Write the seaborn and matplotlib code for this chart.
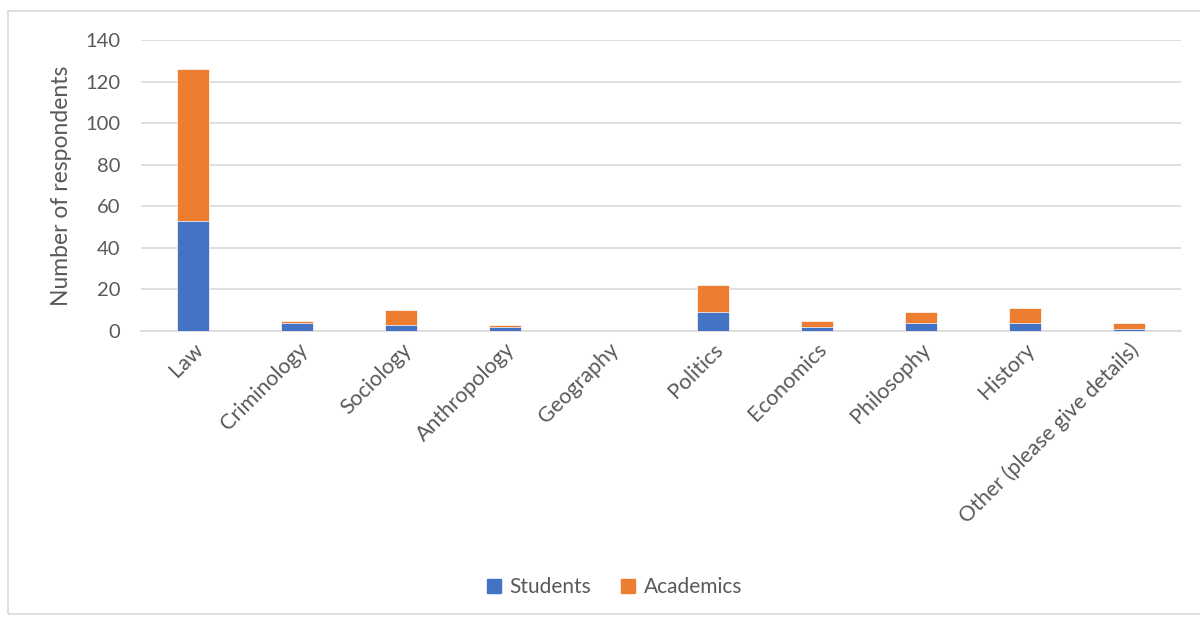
import pandas as pd
import matplotlib.pyplot as plt
import matplotlib.patches as mpatches
import seaborn as sns

# values
categories = ["Law", "Criminology", "Sociology", "Anthropology", "Geography",
              "Politics", "Economics", "Philosophy", "History",
              "Other (please give details)"]
students = [53, 4, 3, 2, 0, 9, 2, 4, 4, 1]
academics = [73, 1, 7, 1, 0, 13, 3, 5, 7, 3]
y_ticks = [0, 20, 40, 60, 80, 100, 120, 140]

blue = "#4472C4"
orange = "#ED7D31"
grid_col = "#D9D9D9"
text_col = "#595959"

df = pd.DataFrame({"Subject": categories, "Students": students,
                   "Academics": academics})
df["Total"] = df["Students"] + df["Academics"]

sns.set_style("white")
plt.rcParams["font.family"] = ["Lato", "DejaVu Sans"]

fig = plt.figure(figsize=(12, 6.17), dpi=100)
ax = fig.add_axes([0.1175, 0.4635, 0.8665, 0.4715])

# stacked bars: total (orange) underneath, students (blue) on top
sns.barplot(data=df, x="Subject", y="Total", color=orange, width=0.31,
            saturation=1, ax=ax, zorder=2, edgecolor="white", linewidth=0.5)
sns.barplot(data=df, x="Subject", y="Students", color=blue, width=0.31,
            saturation=1, ax=ax, zorder=3, edgecolor="white", linewidth=0.5)

ax.set_ylim(0, 140)
ax.set_xlim(-0.5, len(categories) - 0.5)
ax.set_yticks(y_ticks)
ax.yaxis.grid(True, color=grid_col, linewidth=1.2, zorder=0)
ax.set_axisbelow(True)
for s in ["top", "right", "left"]:
    ax.spines[s].set_visible(False)
ax.spines["bottom"].set_color(grid_col)
ax.spines["bottom"].set_linewidth(1.2)

ax.tick_params(axis="y", length=0, labelsize=14.5, colors=text_col, pad=15)
ax.tick_params(axis="x", length=0, labelsize=15.5, colors=text_col, pad=6)
plt.setp(ax.get_xticklabels(), rotation=45, ha="right", rotation_mode="anchor")
ax.set_xlabel("")
ax.set_ylabel("Number of respondents", fontsize=16.5, color=text_col)
ax.yaxis.set_label_coords(-0.066, 0.5)

# legend at the bottom
handles = [mpatches.Patch(color=blue, label="Students"),
           mpatches.Patch(color=orange, label="Academics")]
fig.legend(handles=handles, loc="center", bbox_to_anchor=(0.512, 0.048), ncol=2,
           frameon=False, fontsize=15, labelcolor=text_col,
           handlelength=0.7, handleheight=0.7, handletextpad=0.4,
           columnspacing=1.4)

# outer chart border
fig.patches.append(mpatches.Rectangle((0.007, 0.005), 0.995, 0.977,
                                      transform=fig.transFigure, fill=False,
                                      edgecolor=grid_col, linewidth=1.2))

fig.savefig("out.png", dpi=100, facecolor="white")
